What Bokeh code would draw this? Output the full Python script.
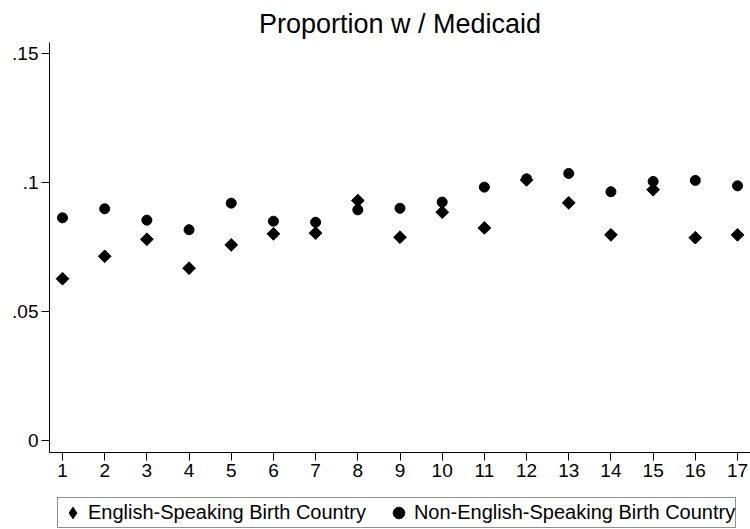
import numpy as np
from bokeh.plotting import figure
from bokeh.layouts import column
from bokeh.models import (ColumnDataSource, FixedTicker, Legend, LegendItem, Range1d)
from bokeh.embed import file_html
from bokeh.resources import INLINE

# ---- data ----
groups = list(range(1, 18))
english = [0.0627, 0.0714, 0.0780, 0.0668, 0.0758, 0.0801, 0.0804, 0.0930, 0.0788,
           0.0885, 0.0824, 0.1010, 0.0921, 0.0797, 0.0972, 0.0786, 0.0797]
non_english = [0.0863, 0.0898, 0.0854, 0.0817, 0.0920, 0.0850, 0.0846, 0.0894, 0.0900,
               0.0924, 0.0982, 0.1014, 0.1035, 0.0964, 0.1004, 0.1008, 0.0987]
y_ticks = [0, 0.05, 0.1, 0.15]
y_tick_labels = ["0", ".05", ".1", ".15"]
title_text = "Proportion w / Medicaid"
label_eng = "English-Speaking Birth Country"
label_non = "Non-English-Speaking Birth Country"

FONT = "Liberation Sans"

W = 750
H_MAIN, H_LEG = 488, 41
ML, MR, MT, MB = 49, 0, 42, 36

src = ColumnDataSource(dict(x=groups, eng=english, non=non_english))

p = figure(width=W, height=H_MAIN, output_backend="svg", toolbar_location=None,
           x_range=Range1d(0.692, 17.308), y_range=Range1d(-0.00465, 0.15426),
           min_border_left=ML, min_border_right=MR, min_border_top=MT,
           min_border_bottom=MB)
p.background_fill_color = "white"
p.border_fill_color = "white"
p.outline_line_color = None
p.xgrid.grid_line_color = None
p.ygrid.grid_line_color = None

p.title.text = title_text
p.title.align = "center"
p.title.text_font = FONT
p.title.text_font_size = "27px"
p.title.text_font_style = "normal"
p.title.text_color = "black"
p.title.standoff = 8

p.scatter("x", "eng", source=src, marker="square", size=9, angle=np.pi / 4,
          fill_color="black", line_color="black")
p.scatter("x", "non", source=src, marker="circle", size=10,
          fill_color="black", line_color="black")

for ax in (p.xaxis[0], p.yaxis[0]):
    ax.axis_line_color = "black"
    ax.axis_line_width = 1
    ax.major_tick_line_color = "black"
    ax.major_tick_in = 0
    ax.major_tick_out = 8
    ax.minor_tick_line_color = None
    ax.major_label_text_font = FONT
    ax.major_label_text_font_size = "19px"
    ax.major_label_text_color = "black"
    ax.major_label_standoff = 3

p.xaxis.ticker = FixedTicker(ticks=groups)
p.yaxis.ticker = FixedTicker(ticks=y_ticks)
p.yaxis.major_label_overrides = {t: l for t, l in zip(y_ticks, y_tick_labels)}
p.yaxis.major_label_orientation = "horizontal"

# ---- legend strip below the chart ----
q = figure(width=W, height=H_LEG, output_backend="svg", toolbar_location=None,
           x_range=Range1d(0.692, 17.308), y_range=Range1d(10, 11),
           x_axis_type=None, y_axis_type=None,
           min_border_left=0, min_border_right=0, min_border_top=0, min_border_bottom=0)
q.background_fill_color = "white"
q.border_fill_color = "white"
q.outline_line_color = None
q.xgrid.grid_line_color = None
q.ygrid.grid_line_color = None
lr_eng = q.scatter("x", "eng", source=src, marker="diamond", size=12,
                   fill_color="black", line_color="black")
lr_non = q.scatter("x", "non", source=src, marker="circle", size=10,
                   fill_color="black", line_color="black")

legend = Legend(items=[LegendItem(label=label_eng, renderers=[lr_eng]),
                       LegendItem(label=label_non, renderers=[lr_non])],
                orientation="horizontal", location=(8, 1),
                label_text_font=FONT, label_text_font_size="20px",
                label_text_color="black", glyph_width=29, glyph_height=29,
                label_standoff=1, spacing=18, padding=0, margin=0, label_height=29,
                border_line_color="#222222", border_line_width=1,
                background_fill_color="white", background_fill_alpha=1)
q.add_layout(legend, "center")

open("out.html", "w").write(file_html(column(p, q, spacing=0), INLINE))
